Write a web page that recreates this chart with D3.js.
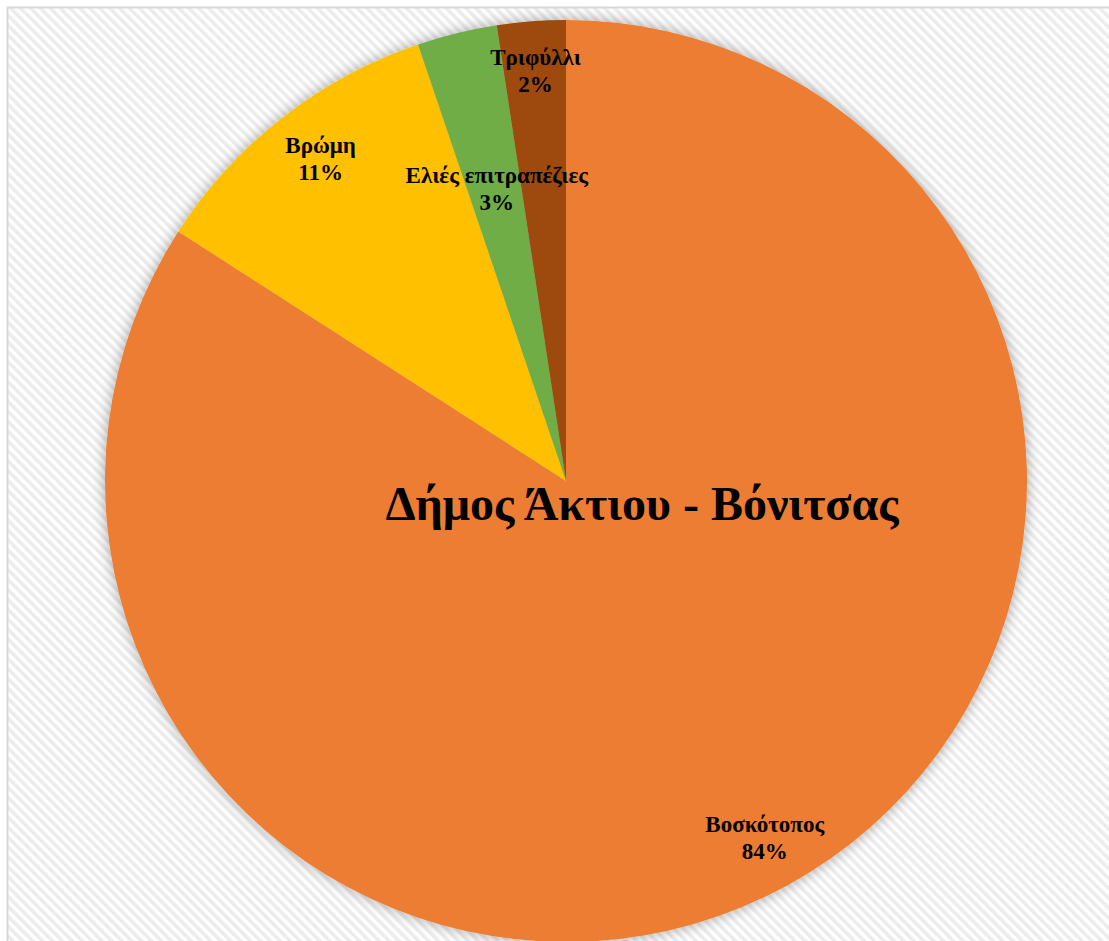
<!DOCTYPE html>
<html>
<head>
<meta charset="utf-8">
<script src="https://cdn.jsdelivr.net/npm/d3@7"></script>
<style>
  html, body { margin: 0; padding: 0; background: #ffffff; }
  svg { display: block; }
</style>
</head>
<body>
<svg id="chart" width="1109" height="941"></svg>
<script>
// Land use shares, Δήμος Άκτιου - Βόνιτσας
const title = "Δήμος Άκτιου - Βόνιτσας";
const categories = ["Βοσκότοπος", "Βρώμη", "Ελιές επιτραπέζιες", "Τριφύλλι"];
const shares = [84.1, 10.7, 2.8, 2.4];
const sliceColors = ["#ED7D31", "#FFC000", "#70AD47", "#9E480E"];

const width = 1109, height = 941;
const cx = 566, cy = 481, radius = 461;

// label distance from the centre, as a fraction of the radius
const labelRadius = { "Βοσκότοπος": 0.90, "Βρώμη": 0.865, "Ελιές επιτραπέζιες": 0.635, "Τριφύλλι": 0.876 };

const svg = d3.select("#chart");
const defs = svg.append("defs");

// diagonal stripe texture for the chart area
const pat = defs.append("pattern")
  .attr("id", "stripes")
  .attr("patternUnits", "userSpaceOnUse")
  .attr("width", 7).attr("height", 7)
  .attr("patternTransform", "rotate(-45)");
pat.append("rect").attr("width", 7).attr("height", 7).attr("fill", "#ffffff");
pat.append("rect").attr("width", 3.5).attr("height", 7).attr("fill", "#ececec");

// soft shadow around the pie
const shadow = defs.append("filter")
  .attr("id", "pieShadow")
  .attr("x", "-10%").attr("y", "-10%").attr("width", "120%").attr("height", "120%");
shadow.append("feDropShadow")
  .attr("dx", 0).attr("dy", 0)
  .attr("stdDeviation", 7)
  .attr("flood-color", "#000000")
  .attr("flood-opacity", 0.35);

// chart area with its light frame
svg.append("rect")
  .attr("x", 7.5).attr("y", 7.5)
  .attr("width", width + 20).attr("height", height + 20)
  .attr("fill", "url(#stripes)")
  .attr("stroke", "#d9d9d9")
  .attr("stroke-width", 2);

const data = categories.map((c, i) => ({ name: c, value: shares[i], color: sliceColors[i] }));

const pie = d3.pie()
  .value(d => d.value)
  .sort(null)
  .startAngle(0)
  .endAngle(2 * Math.PI);

const arcs = pie(data);
const arc = d3.arc().innerRadius(0).outerRadius(radius);

const g = svg.append("g").attr("transform", `translate(${cx},${cy})`);

const slices = g.append("g").attr("filter", "url(#pieShadow)");
slices.selectAll("path")
  .data(arcs)
  .join("path")
  .attr("d", arc)
  .attr("fill", d => d.data.color);

const total = d3.sum(shares);
const fmtPct = v => Math.round(v / total * 100) + "%";

// data labels: category name and percentage, centred on the slice bisector
const labels = g.append("g")
  .attr("font-family", "'Liberation Serif', 'Times New Roman', serif")
  .attr("font-weight", "bold")
  .attr("font-size", 23)
  .attr("fill", "#000000")
  .attr("text-anchor", "middle");

arcs.forEach(a => {
  const mid = (a.startAngle + a.endAngle) / 2;
  const r = radius * labelRadius[a.data.name];
  const x = Math.sin(mid) * r;
  const y = -Math.cos(mid) * r;
  const t = labels.append("text").attr("x", x).attr("y", y);
  t.append("tspan").attr("x", x).attr("y", y - 13.5).text(a.data.name);
  t.append("tspan").attr("x", x).attr("y", y + 13.5).text(fmtPct(a.data.value));
});

// chart title laid over the pie
svg.append("text")
  .attr("x", 642)
  .attr("y", 520)
  .attr("text-anchor", "middle")
  .attr("font-family", "'Liberation Serif', 'Times New Roman', serif")
  .attr("font-weight", "bold")
  .attr("font-size", 48)
  .attr("fill", "#000000")
  .text(title);
</script>
</body>
</html>
